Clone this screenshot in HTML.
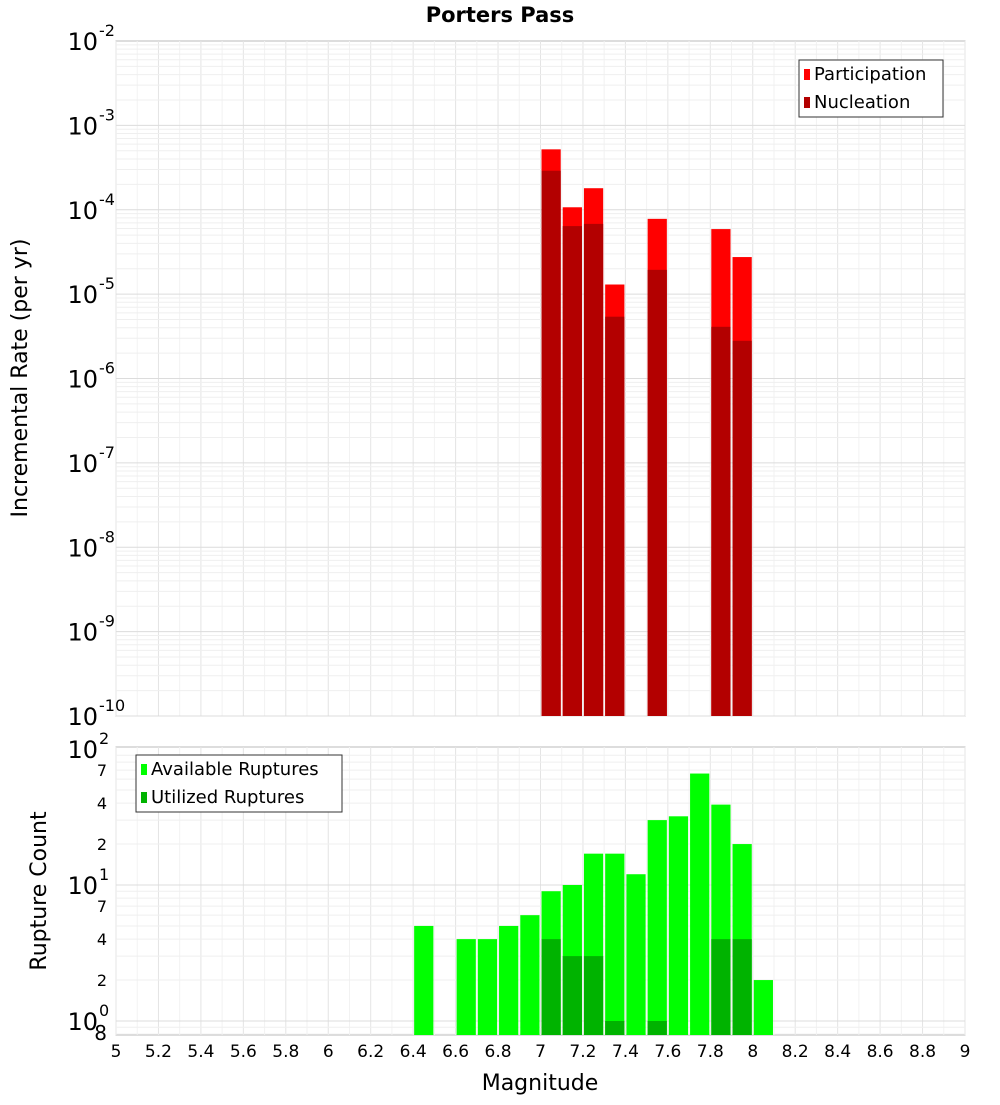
<!DOCTYPE html>
<html><head><meta charset="utf-8"><style>
body{margin:0;background:#fff;font-family:"Liberation Sans","DejaVu Sans",sans-serif}
svg text{font-family:"DejaVu Sans","Liberation Sans",sans-serif}
</style></head><body>
<svg id="chart" width="1000" height="1100" xmlns="http://www.w3.org/2000/svg"></svg>
<script>
const topMags=[7.0,7.1,7.2,7.3,7.5,7.8,7.9];
const participation=[5.2e-4,1.07e-4,1.8e-4,1.3e-5,7.8e-5,5.9e-5,2.75e-5];
const nucleation=[2.9e-4,6.4e-5,6.8e-5,5.4e-6,1.94e-5,4.1e-6,2.8e-6];
const botMags=[6.4,6.6,6.7,6.8,6.9,7.0,7.1,7.2,7.3,7.4,7.5,7.6,7.7,7.8,7.9,8.0];
const available=[5,4,4,5,6,9,10,17,17,12,30,32,66,39,20,2];
const utilMags=[7.0,7.1,7.2,7.3,7.5,7.8,7.9];
const utilized=[4,3,3,1,1,4,4];
const xTicks=["5","5.2","5.4","5.6","5.8","6","6.2","6.4","6.6","6.8","7","7.2","7.4","7.6","7.8","8","8.2","8.4","8.6","8.8","9"];

const NS="http://www.w3.org/2000/svg";
const svg=document.getElementById('chart');
function el(tag,attrs,parent){const e=document.createElementNS(NS,tag);for(const k in attrs)e.setAttribute(k,attrs[k]);(parent||svg).appendChild(e);return e;}
const X0=116,X1=965;
const x=m=>X0+(m-5)/4*(X1-X0);
const T0=41,T1=716; const yTop=v=>T0+(-2-Math.log10(v))/8*(T1-T0);
const B0=747,B1=1035; const D=136; const yBot=v=>885-Math.log10(v/10)*D;

// backgrounds
el('rect',{x:X0,y:T0,width:X1-X0,height:T1-T0,fill:'#fff',stroke:'#bbb'});
el('rect',{x:X0,y:B0,width:X1-X0,height:B1-B0,fill:'#fff',stroke:'#bbb'});
// grids
for(let i=0;i<=40;i++){const xx=x(5+i*0.1);
 el('line',{x1:xx,x2:xx,y1:T0,y2:T1,stroke:i%2?'#f2f2f2':'#e4e4e4'});
 el('line',{x1:xx,x2:xx,y1:B0,y2:B1,stroke:i%2?'#f2f2f2':'#e4e4e4'});}
for(let d=-10;d<-2;d++)for(let k=1;k<10;k++){const yy=yTop(k*Math.pow(10,d));
 el('line',{x1:X0,x2:X1,y1:yy,y2:yy,stroke:k==1?'#dcdcdc':'#efefef'});}
for(let d=-1;d<2;d++)for(let k=1;k<10;k++){const v=k*Math.pow(10,d);if(v<0.8)continue;const yy=yBot(v);
 el('line',{x1:X0,x2:X1,y1:yy,y2:yy,stroke:k==1?'#dcdcdc':'#efefef'});}

// top bars
topMags.forEach((m,i)=>{
 let r=el('rect',{x:x(m)+1,y:yTop(participation[i]),width:x(m+0.1)-x(m)-2,height:T1-yTop(participation[i]),fill:'#ff0000'});
 
 
 let n=el('rect',{x:x(m)+1,y:yTop(nucleation[i]),width:x(m+0.1)-x(m)-2,height:T1-yTop(nucleation[i]),fill:'#b30000'});
 
 
});
// bottom bars
botMags.forEach((m,i)=>{
 let r=el('rect',{x:x(m)+1,y:yBot(available[i]),width:x(m+0.1)-x(m)-2,height:B1-yBot(available[i]),fill:'#00ff00'});
 
 
});
utilMags.forEach((m,i)=>{
 let r=el('rect',{x:x(m)+1,y:yBot(utilized[i]),width:x(m+0.1)-x(m)-2,height:B1-yBot(utilized[i]),fill:'#00b300'});
 
 
});

// top y labels
for(let d=-10;d<=-2;d++){const yy=yTop(Math.pow(10,d));
 const t=el('text',{x:98,y:yy+9,'font-size':24,'text-anchor':'end',fill:'#000'});t.textContent='10';
 
 
 const s=el('text',{x:99,y:yy-5,'font-size':16,fill:'#000'});s.textContent=String(d);}
// bottom y labels
[[100,'10','2'],[10,'10','1'],[1,'10','0']].forEach(([v,a,b])=>{const yy=yBot(v);
 const t=el('text',{x:98,y:yy+9,'font-size':24,'text-anchor':'end'});t.textContent=a;
 
 
 el('text',{x:99,y:yy-5,'font-size':16}).textContent=b;});
[[70,'7'],[40,'4'],[20,'2'],[7,'7'],[4,'4'],[2,'2'],[0.8,'8']].forEach(([v,l])=>{
 const t=el('text',{x:v==0.8?107:107,y:yBot(v)+6,'font-size':v==0.8?20:16,'text-anchor':'end'});t.textContent=l;});
// x labels
xTicks.forEach(l=>{const t=el('text',{x:x(parseFloat(l)),y:1057,'font-size':17,'text-anchor':'middle'});t.textContent=l;
 
 });

// titles
let t=el('text',{x:500,y:22,'font-size':21,'font-weight':'bold','text-anchor':'middle'});t.textContent='Porters Pass';

t=el('text',{x:540,y:1090,'font-size':22,'text-anchor':'middle'});t.textContent='Magnitude';

t=el('text',{x:0,y:0,'font-size':22,'text-anchor':'middle',transform:'translate(27,378) rotate(-90)'});t.textContent='Incremental Rate (per yr)';

t=el('text',{x:0,y:0,'font-size':22,'text-anchor':'middle',transform:'translate(46,891) rotate(-90)'});t.textContent='Rupture Count';


// legends
function legend(x0,y0,w,items,name){const g=el('g',{});
 el('rect',{x:x0,y:y0,width:w,height:57,fill:'#fff',stroke:'#333'},g);
 items.forEach(([c,l],i)=>{el('rect',{x:x0+5,y:y0+9+i*28,width:6,height:11,fill:c},g);
  const tt=el('text',{x:x0+15,y:y0+20+i*28,'font-size':18},g);tt.textContent=l;
  });}
legend(799,60,144,[['#ff0000','Participation'],['#b30000','Nucleation']],'legend-top');
legend(136,755,206,[['#00ff00','Available Ruptures'],['#00b300','Utilized Ruptures']],'legend-bottom');
</script>
</body></html>
